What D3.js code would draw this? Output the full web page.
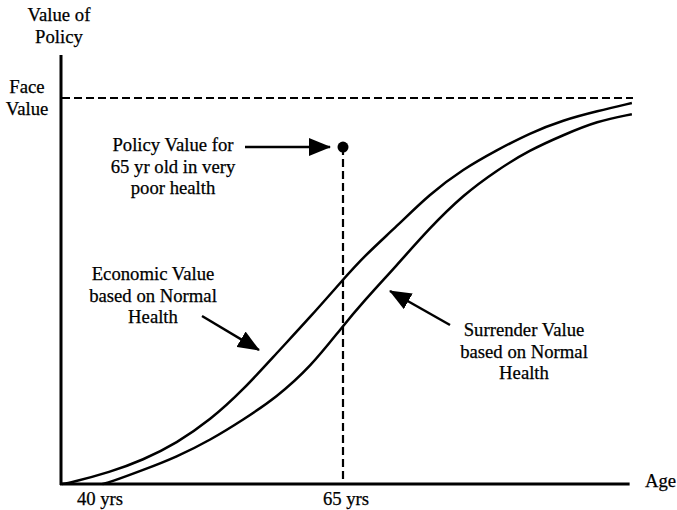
<!DOCTYPE html>
<html>
<head>
<meta charset="utf-8">
<script src="https://cdn.jsdelivr.net/npm/d3@7"></script>
<style>
  body { margin: 0; background: #fff; }
  text { font-family: "Liberation Serif", "Times New Roman", serif; font-size: 18.7px; fill: #000; stroke: #000; stroke-width: 0.25; }
</style>
</head>
<body>
<div id="vis"></div>
<script>
// Values: age in years, value as share of face value
const economicAges   = [40, 40.7, 44.3, 47.2, 50.2, 53.2, 56.1, 59.1, 62.1, 64.9, 66.8, 69.8, 72.7, 75.7, 78.7, 81.6, 84.6, 87.6, 90.7]
const economicValues = [0, 0.003, 0.031, 0.062, 0.106, 0.166, 0.243, 0.339, 0.433, 0.526, 0.588, 0.668, 0.751, 0.816, 0.865, 0.909, 0.943, 0.966, 0.987]

const surrenderAges   = [43.6, 44.3, 47.2, 50.2, 53.2, 56.1, 59.1, 62.1, 64.9, 66.8, 69.8, 72.7, 75.7, 78.7, 81.6, 84.6, 87.6, 90.7]
const surrenderValues = [0, 0.005, 0.036, 0.070, 0.114, 0.166, 0.225, 0.303, 0.406, 0.472, 0.567, 0.663, 0.749, 0.813, 0.865, 0.904, 0.940, 0.958]

const pointAge = 65
const pointValue = 0.873
const faceValue = 1

const tickAges = [40, 65]
const tickLabels = ["40 yrs", "65 yrs"]

const width = 677
const height = 510

// Scales: 40 -> 62px, 65 -> 343px ; 0 -> 484px, face value -> 98px
const x = d3.scaleLinear().domain([40, 65]).range([62, 343])
const y = d3.scaleLinear().domain([0, 1]).range([484, 98])

const svg = d3.select("#vis")
    .append("svg")
    .attr("width", width)
    .attr("height", height)

// Arrowhead marker
svg.append("defs").append("marker")
    .attr("id", "head")
    .attr("viewBox", "0 0 22 18")
    .attr("refX", 21)
    .attr("refY", 9)
    .attr("markerUnits", "userSpaceOnUse")
    .attr("markerWidth", 22)
    .attr("markerHeight", 18)
    .attr("orient", "auto")
  .append("path")
    .attr("d", "M0,0 L22,9 L0,18 Z")
    .attr("fill", "#000")

// Axes
svg.append("line")
    .attr("x1", x(40) - 1).attr("x2", x(40) - 1)
    .attr("y1", 55).attr("y2", y(0) + 1)
    .attr("stroke", "#000").attr("stroke-width", 3)

svg.append("line")
    .attr("x1", x(40) - 2).attr("x2", x(90.5))
    .attr("y1", y(0)).attr("y2", y(0))
    .attr("stroke", "#000").attr("stroke-width", 3)

// Face value dashed line
svg.append("line")
    .attr("x1", x(40)).attr("x2", x(90.8))
    .attr("y1", y(faceValue)).attr("y2", y(faceValue))
    .attr("stroke", "#000").attr("stroke-width", 2.2)
    .attr("stroke-dasharray", "8,4")

// Vertical dashed line at 65
svg.append("line")
    .attr("x1", x(pointAge)).attr("x2", x(pointAge))
    .attr("y1", y(pointValue)).attr("y2", y(0))
    .attr("stroke", "#000").attr("stroke-width", 2.2)
    .attr("stroke-dasharray", "8,4")

// Curves (basis spline to smooth reading noise)
const line = d3.line()
    .x(d => x(d[0]))
    .y(d => y(d[1]))
    .curve(d3.curveBasis)

svg.append("path")
    .datum(d3.zip(economicAges, economicValues))
    .attr("d", line)
    .attr("fill", "none").attr("stroke", "#000").attr("stroke-width", 2.5)

svg.append("path")
    .datum(d3.zip(surrenderAges, surrenderValues))
    .attr("d", line)
    .attr("fill", "none").attr("stroke", "#000").attr("stroke-width", 2.5)

// Point
svg.append("circle")
    .attr("cx", x(pointAge)).attr("cy", y(pointValue))
    .attr("r", 5.5)
    .attr("fill", "#000")

// Arrows (pixel positions of annotations)
const arrows = [
    [245, 147, 330, 147],
    [202, 316, 259, 350],
    [450, 325, 390, 291]
]
svg.selectAll(".arrow")
    .data(arrows)
    .enter()
    .append("line")
    .attr("x1", d => d[0]).attr("y1", d => d[1])
    .attr("x2", d => d[2]).attr("y2", d => d[3])
    .attr("stroke", "#000").attr("stroke-width", 2.5)
    .attr("marker-end", "url(#head)")

// Text blocks
function block(lines, cx, baseline, anchor) {
    svg.append("g").selectAll("text")
        .data(lines)
        .enter()
        .append("text")
        .attr("x", cx)
        .attr("y", (d, i) => baseline + i * 21.5)
        .attr("text-anchor", anchor || "middle")
        .text(d => d)
}

block(["Value of", "Policy"], 59, 21)
block(["Face", "Value"], 27, 93)
block(["Policy Value for", "65 yr old in very", "poor health"], 173, 151)
block(["Economic Value", "based on Normal", "Health"], 153, 280)
block(["Surrender Value", "based on Normal", "Health"], 524, 336)

// Tick labels
svg.selectAll(".tick-label")
    .data(tickAges)
    .enter()
    .append("text")
    .attr("x", (d, i) => x(d) + (i === 0 ? 38 : 3))
    .attr("y", 505)
    .attr("text-anchor", "middle")
    .text((d, i) => tickLabels[i])

svg.append("text")
    .attr("x", 645).attr("y", 487)
    .text("Age")
</script>
</body>
</html>
